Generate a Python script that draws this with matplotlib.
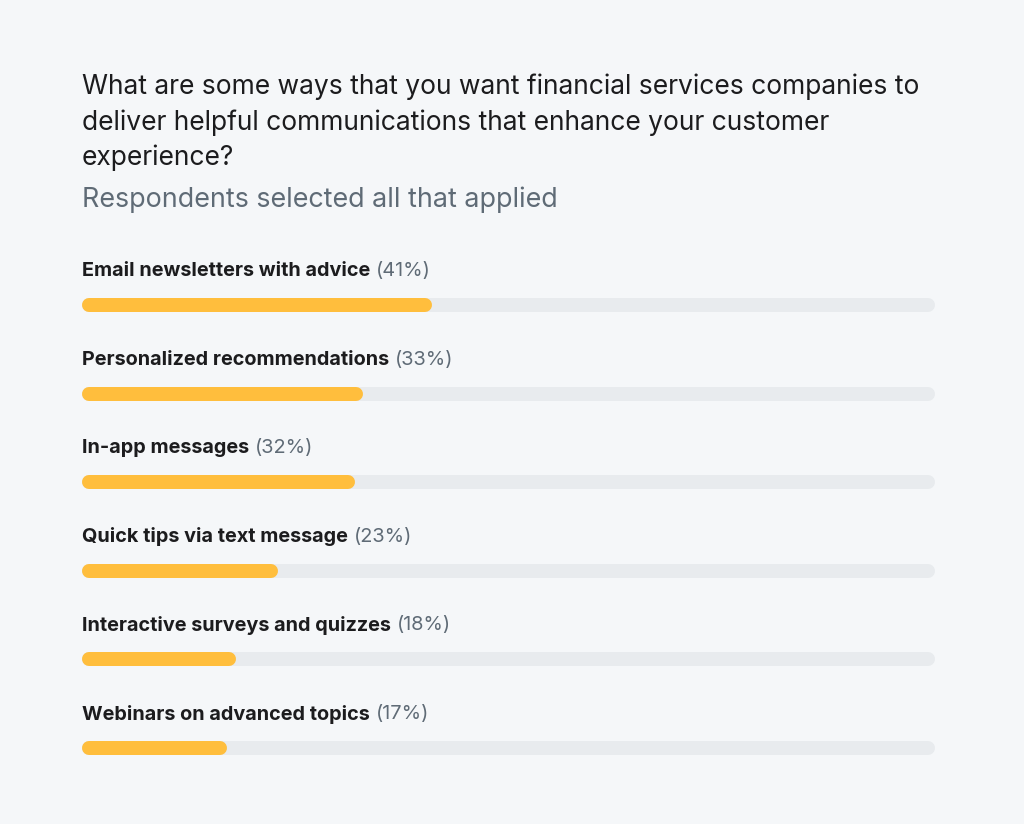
import matplotlib
matplotlib.use("Agg")
import matplotlib.pyplot as plt

categories = [
    "Email newsletters with advice",
    "Personalized recommendations",
    "In-app messages",
    "Quick tips via text message",
    "Interactive surveys and quizzes",
    "Webinars on advanced topics",
]
values = [41, 33, 32, 23, 18, 17]

title_lines = [
    "What are some ways that you want financial services companies to",
    "deliver helpful communications that enhance your customer",
    "experience?",
]
subtitle = "Respondents selected all that applied"

BG = "#F5F7F9"
YELLOW = "#FFBE3D"
TRACK = "#E8EBEE"
DARK = "#1C1C1E"
GRAY = "#5F6B76"
FONT = "Inter"

W, H = 1024, 824
fig = plt.figure(figsize=(W / 100, H / 100), dpi=100, facecolor=BG)

# axes in pixel-based vertical coords, percent horizontally
x0, x1 = 82, 935
ax = fig.add_axes([x0 / W, 0, (x1 - x0) / W, 1])
ax.set_xlim(0, 100)
ax.set_ylim(H, 0)
ax.axis("off")

bar_px = 14
lw = bar_px * 72 / 100
r = (bar_px / 2) / ((x1 - x0) / 100)  # cap radius in percent units

for j, line in enumerate(title_lines):
    fig.text(x0 / W, 1 - (87 + j * 35.5) / H, line, fontsize=19, family=FONT,
             color=DARK, va="center")
fig.text(x0 / W, 1 - 200 / H, subtitle, fontsize=19.3, family=FONT, color=GRAY,
         va="center")

fig.canvas.draw()
renderer = fig.canvas.get_renderer()

for i, (cat, v) in enumerate(zip(categories, values)):
    yb = 305 + i * 88.6
    ax.plot([r, 100 - r], [yb, yb], color=TRACK, lw=lw, solid_capstyle="round")
    ax.plot([r, v - r], [yb, yb], color=YELLOW, lw=lw, solid_capstyle="round")
    yl = 1 - (yb - 34) / H
    t = fig.text(x0 / W, yl, cat, fontsize=14.3, weight="bold", family=FONT,
                 color=DARK, va="center")
    bb = t.get_window_extent(renderer)
    fig.text((bb.x1 + 6) / W, yl, f"({v}%)", fontsize=14.3, family=FONT,
             color=GRAY, va="center")

fig.savefig("out.png", dpi=100, facecolor=BG)
